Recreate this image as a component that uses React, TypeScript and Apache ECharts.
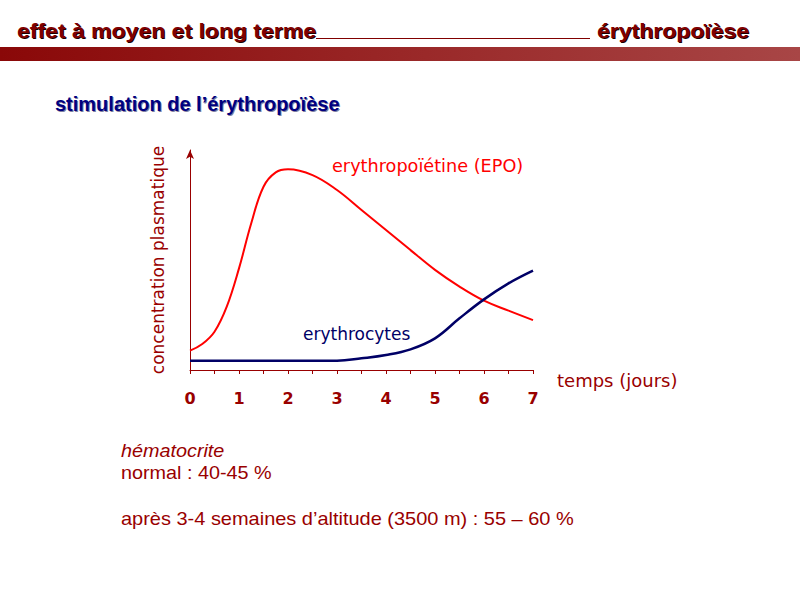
import React, { useEffect, useRef } from "react";
import * as echarts from "echarts";

const epoDays = [0, 0.25, 0.5, 0.75, 1, 1.25, 1.5, 1.75, 2, 2.5, 3, 3.5, 4, 4.5, 5, 5.5, 6, 6.5, 7];
const epoValues = [8.8, 11.8, 17.4, 28.8, 46.2, 66.7, 83.3, 89.8, 91.2, 88.6, 81.8, 72.7, 63.6, 54.5, 45.5, 37.9, 31.5, 27, 22.7];
const eryDays = [0, 1, 2, 3, 3.5, 4, 4.5, 5, 5.5, 6, 6.5, 7];
const eryValues = [4.2, 4.2, 4.2, 4.2, 5.3, 6.8, 9.4, 14.4, 23.5, 32.1, 39.4, 45.2];

const headerLeft = "effet à moyen et long terme";
const headerRight = "érythropoïèse";
const subtitle = "stimulation de l’érythropoïèse";
const epoLabel = "erythropoïétine (EPO)";
const eryLabel = "erythrocytes";
const xName = "temps (jours)";
const yName = "concentration plasmatique";
const noteLines = ["hématocrite", "normal : 40-45 %", "après 3-4 semaines d’altitude (3500 m) : 55 – 60 %"];

const DARK_RED = "#990000";
const HEADER_FONT = "bold 20px 'Liberation Sans', Arial, sans-serif";

function shadowedText(text: string, x: number, y: number, font: string, fill: string, shadow: string, scaleX: number) {
  return [
    {
      type: "text",
      x: x + 1,
      y: y + 1,
      scaleX,
      silent: true,
      style: { text, font, fill: shadow, verticalAlign: "middle", align: "left" },
    },
    {
      type: "text",
      x,
      y,
      scaleX,
      style: { text, font, fill, verticalAlign: "middle", align: "left" },
    },
  ];
}

export default function App() {
  const ref = useRef<HTMLDivElement>(null);
  useEffect(() => {
    if (!ref.current) return;
    const chart = echarts.init(ref.current, null, { renderer: "svg" });
    const chartFont = "DejaVu Sans";
    chart.setOption({
      animation: false,
      backgroundColor: "#ffffff",
      grid: { left: 190, right: 267, top: 150, bottom: 230, containLabel: false },
      xAxis: {
        type: "value",
        min: 0,
        max: 7,
        interval: 1,
        axisLine: { show: true, lineStyle: { color: DARK_RED, width: 1 } },
        axisTick: { show: true, length: 4, lineStyle: { color: DARK_RED } },
        minorTick: { show: true, splitNumber: 2, length: 4, lineStyle: { color: DARK_RED } },
        splitLine: { show: false },
        axisLabel: { color: DARK_RED, fontFamily: chartFont, fontWeight: "bold", fontSize: 16, margin: 20 },
        name: xName,
        nameLocation: "end",
        nameGap: 24,
        nameTextStyle: { color: DARK_RED, fontFamily: chartFont, fontSize: 18, verticalAlign: "top", padding: [1, 0, 0, 0] },
      },
      yAxis: {
        type: "value",
        min: 0,
        max: 100,
        axisLine: { show: true, symbol: ["none", "arrow"], symbolSize: [6, 9], lineStyle: { color: DARK_RED, width: 1 } },
        axisTick: { show: false },
        axisLabel: { show: false },
        splitLine: { show: false },
        name: yName,
        nameLocation: "middle",
        nameRotate: 90,
        nameGap: 24,
        nameTextStyle: { color: DARK_RED, fontFamily: chartFont, fontSize: 17 },
      },
      series: [
        {
          type: "line",
          name: epoLabel,
          data: epoDays.map((d, i) => [d, epoValues[i]]),
          smooth: 0.4,
          showSymbol: false,
          lineStyle: { color: "#ff0000", width: 2 },
        },
        {
          type: "line",
          name: eryLabel,
          data: eryDays.map((d, i) => [d, eryValues[i]]),
          smooth: 0.4,
          showSymbol: false,
          lineStyle: { color: "#000066", width: 2.5 },
        },
      ],
      graphic: [
        {
          type: "rect",
          shape: { x: 0, y: 47, width: 800, height: 14 },
          style: {
            fill: new echarts.graphic.LinearGradient(0, 0, 1, 0, [
              { offset: 0, color: "#8a0808" },
              { offset: 1, color: "#a84646" },
            ]),
          },
        },
        {
          type: "line",
          shape: { x1: 316, y1: 38.5, x2: 590, y2: 38.5 },
          style: { stroke: "#800000", lineWidth: 1 },
        },
        ...shadowedText(headerLeft, 17, 31, HEADER_FONT, "#800000", "#1a0000", 1.15),
        ...shadowedText(headerRight, 597, 31, HEADER_FONT, "#800000", "#1a0000", 1.15),
        ...shadowedText(subtitle, 55, 104, HEADER_FONT, "#000080", "#8080a0", 1.0),
        {
          type: "text",
          x: 332,
          y: 166,
          scaleX: 1.04,
          style: { text: epoLabel, font: "17px 'DejaVu Sans'", fill: "#ff0000", verticalAlign: "middle", align: "left" },
        },
        {
          type: "text",
          x: 303,
          y: 334,
          style: { text: eryLabel, font: "17px 'DejaVu Sans'", fill: "#000066", verticalAlign: "middle", align: "left" },
        },
        {
          type: "text",
          x: 121,
          y: 451,
          scaleX: 1.1,
          style: { text: noteLines[0], font: "italic 18px 'Liberation Sans', Arial, sans-serif", fill: DARK_RED, verticalAlign: "middle", align: "left" },
        },
        {
          type: "text",
          x: 121,
          y: 473,
          scaleX: 1.1,
          style: { text: noteLines[1], font: "18px 'Liberation Sans', Arial, sans-serif", fill: DARK_RED, verticalAlign: "middle", align: "left" },
        },
        {
          type: "text",
          x: 121,
          y: 519,
          scaleX: 1.11,
          style: { text: noteLines[2], font: "18px 'Liberation Sans', Arial, sans-serif", fill: DARK_RED, verticalAlign: "middle", align: "left" },
        },
      ],
    });
    return () => chart.dispose();
  }, []);
  return <div ref={ref} style={{ position: "fixed", left: 0, top: 0, width: 800, height: 600 }} />;
}
